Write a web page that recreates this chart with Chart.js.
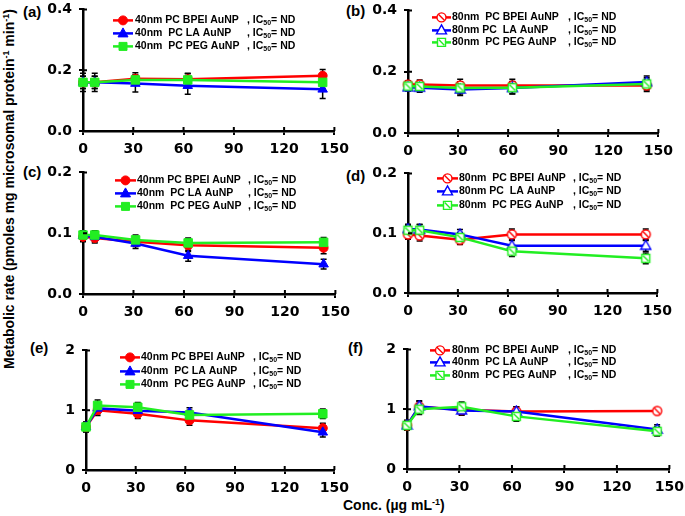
<!DOCTYPE html>
<html>
<head>
<meta charset="utf-8">
<script src="https://cdn.jsdelivr.net/npm/chart.js@4.4.0/dist/chart.umd.min.js"></script>
<style>
  body { margin: 0; background: #fff; }
  #wrap { position: relative; width: 685px; height: 516px; overflow: hidden;
          font-family: "Liberation Sans", Arial, sans-serif; font-weight: bold; color: #000; }
  canvas { position: absolute; }
  .lbl { position: absolute; font-size: 15px; line-height: 15px; }
  #ytitle { position: absolute; left: 9px; top: 189px; font-size: 14px; line-height: 14px; white-space: nowrap;
            transform: translate(-50%, -50%) rotate(-90deg); }
  #xtitle { position: absolute; left: 343px; top: 498px; font-size: 14px; line-height: 14px; white-space: nowrap; }
  sup { font-size: 9px; vertical-align: 5px; line-height: 0; }
</style>
</head>
<body>
<div id="wrap">
  <div class="lbl" style="left:23px;top:4px">(a)</div>
  <div class="lbl" style="left:346px;top:3px">(b)</div>
  <div class="lbl" style="left:23px;top:164px">(c)</div>
  <div class="lbl" style="left:346px;top:168px">(d)</div>
  <div class="lbl" style="left:30px;top:340px">(e)</div>
  <div class="lbl" style="left:348px;top:340px">(f)</div>
  <div id="ytitle">Metabolic rate (pmoles mg microsomal protein<sup>-1</sup> min<sup>-1</sup>)</div>
  <div id="xtitle">Conc. (µg mL<sup>-1</sup>)</div>
</div>
<script>
// concentrations (µg/mL)
const conc = [0, 7, 31.25, 62.5, 143];
const xTicks = [0, 30, 60, 90, 120, 150];

// (a) 40nm
const aBPEI = [0.160, 0.160, 0.172, 0.170, 0.182];
const aLA   = [0.160, 0.160, 0.156, 0.149, 0.137];
const aPEG  = [0.160, 0.160, 0.168, 0.168, 0.160];
const aBPEIErr = [0.02, 0.02, 0.02, 0.02, 0.02];
const aLAErr   = [0.03, 0.03, 0.028, 0.028, 0.03];
const aPEGErr  = [0.02, 0.02, 0.015, 0.02, 0.02];

// (b) 80nm
const bBPEI = [0.158, 0.158, 0.155, 0.155, 0.155];
const bLA   = [0.149, 0.148, 0.142, 0.147, 0.166];
const bPEG  = [0.153, 0.152, 0.147, 0.148, 0.160];
const bBPEIErr = [0.012, 0.015, 0.02, 0.02, 0.02];
const bLAErr   = [0.012, 0.015, 0.02, 0.02, 0.02];
const bPEGErr  = [0.012, 0.015, 0.02, 0.02, 0.02];

// (c) 40nm
const cBPEI = [0.094, 0.092, 0.086, 0.080, 0.076];
const cLA   = [0.096, 0.094, 0.083, 0.063, 0.049];
const cPEG  = [0.097, 0.097, 0.089, 0.084, 0.085];
const cBPEIErr = [0.008, 0.008, 0.008, 0.01, 0.01];
const cLAErr   = [0.008, 0.008, 0.008, 0.009, 0.008];
const cPEGErr  = [0.007, 0.007, 0.008, 0.008, 0.008];

// (d) 80nm
const dBPEI = [0.098, 0.096, 0.089, 0.098, 0.098];
const dLA   = [0.107, 0.106, 0.098, 0.079, 0.079];
const dPEG  = [0.105, 0.105, 0.093, 0.070, 0.058];
const dBPEIErr = [0.008, 0.009, 0.008, 0.009, 0.009];
const dLAErr   = [0.008, 0.009, 0.008, 0.009, 0.009];
const dPEGErr  = [0.008, 0.009, 0.008, 0.009, 0.009];

// (e) 40nm
const eBPEI = [0.72, 1.00, 0.94, 0.83, 0.70];
const eLA   = [0.72, 1.03, 0.99, 0.96, 0.63];
const ePEG  = [0.72, 1.08, 1.05, 0.92, 0.94];
const eBPEIErr = [0.08, 0.09, 0.08, 0.08, 0.08];
const eLAErr   = [0.08, 0.09, 0.08, 0.08, 0.08];
const ePEGErr  = [0.08, 0.09, 0.08, 0.08, 0.08];

// (f) 80nm
const fBPEI = [0.73, 1.04, 0.99, 0.96, 0.97];
const fLA   = [0.73, 1.05, 0.98, 0.96, 0.66];
const fPEG  = [0.73, 1.00, 1.04, 0.88, 0.63];
const fBPEIErr = [0.08, 0.09, 0.08, 0.08, 0.03];
const fLAErr   = [0.08, 0.09, 0.08, 0.08, 0.08];
const fPEGErr  = [0.08, 0.09, 0.08, 0.08, 0.08];

const names40 = ["40nm PC BPEI AuNP", "40nm  PC LA AuNP", "40nm  PC PEG AuNP"];
const names80 = ["80nm  PC BPEI AuNP", "80nm PC  LA AuNP", "80nm  PC PEG AuNP"];
const namesF  = ["80nm  PC BPEI AuNP", "40nm  PC LA AuNP", "80nm  PC PEG AuNP"];

const yTicks02 = [0, 0.2, 0.4];
const yTicks01 = [0, 0.1, 0.2];
const yTicks1  = [0, 1, 2];

const RED = "#ff0000", BLUE = "#0000ff", GREEN = "#22ee22";
const TICK_FONT = { family: "'DejaVu Sans', sans-serif", size: 14, weight: "bold" };
const LEG_FONT = "bold 10.5px 'Liberation Sans', Arial, sans-serif";
const SUB_FONT = "bold 7px 'Liberation Sans', Arial, sans-serif";

function drawMarker(ctx, shape, color, open, x, y) {
  ctx.save();
  ctx.strokeStyle = color;
  ctx.fillStyle = open ? "#fff" : color;
  ctx.lineWidth = open ? 1.4 : 1;
  ctx.beginPath();
  let r = 4.5;
  if (shape === "circle") ctx.arc(x, y, r, 0, Math.PI * 2);
  else if (shape === "triangle") {
    r = 5;
    ctx.moveTo(x, y - r * 1.1); ctx.lineTo(x + r, y + r * 0.7); ctx.lineTo(x - r, y + r * 0.7); ctx.closePath();
  } else { r = 4; ctx.rect(x - r, y - r, 2 * r, 2 * r); }
  ctx.fill(); ctx.stroke();
  if (open && shape !== "triangle") {
    ctx.beginPath();
    ctx.moveTo(x - r * 0.7, y - r * 0.7); ctx.lineTo(x + r * 0.7, y + r * 0.7);
    ctx.stroke();
  }
  ctx.restore();
}

function markerImage(shape, color) {
  const c = document.createElement("canvas");
  c.width = 13; c.height = 13;
  drawMarker(c.getContext("2d"), shape, color, true, 6.5, 6.5);
  return c;
}

const errorBars = {
  id: "errorBars",
  beforeDatasetsDraw(chart) {
    const ctx = chart.ctx, ys = chart.scales.y;
    ctx.save();
    ctx.strokeStyle = "#000"; ctx.lineWidth = 1.5;
    chart.data.datasets.forEach((ds, i) => {
      chart.getDatasetMeta(i).data.forEach((pt, j) => {
        const v = ds.data[j].y, e = ds.errors[j];
        const y1 = ys.getPixelForValue(v + e), y2 = ys.getPixelForValue(v - e);
        ctx.beginPath();
        ctx.moveTo(pt.x, y1); ctx.lineTo(pt.x, y2);
        ctx.moveTo(pt.x - 3, y1); ctx.lineTo(pt.x + 3, y1);
        ctx.moveTo(pt.x - 3, y2); ctx.lineTo(pt.x + 3, y2);
        ctx.stroke();
      });
    });
    ctx.restore();
  }
};

// ticks that cross the axis line
const crossTicks = {
  id: "crossTicks",
  afterDraw(chart) {
    const ctx = chart.ctx, a = chart.chartArea, xs = chart.scales.x, ys = chart.scales.y;
    ctx.save();
    ctx.strokeStyle = "#000"; ctx.lineWidth = 2;
    ctx.beginPath();
    xs.ticks.forEach(t => { const x = xs.getPixelForValue(t.value); ctx.moveTo(x, a.bottom); ctx.lineTo(x, a.bottom - 4); });
    ys.ticks.forEach(t => { const y = ys.getPixelForValue(t.value); ctx.moveTo(a.left, y); ctx.lineTo(a.left + 4, y); });
    ctx.stroke();
    ctx.restore();
  }
};

const panelLegend = {
  id: "panelLegend",
  afterDraw(chart, args, opts) {
    const ctx = chart.ctx, a = chart.chartArea;
    ctx.save();
    chart.data.datasets.forEach((ds, i) => {
      const y = a.top + opts.rows[i];
      ctx.strokeStyle = ds.borderColor; ctx.lineWidth = 2.5;
      ctx.beginPath(); ctx.moveTo(a.left + opts.x0, y); ctx.lineTo(a.left + opts.x1, y); ctx.stroke();
      drawMarker(ctx, ds.shape, ds.borderColor, opts.open, a.left + (opts.x0 + opts.x1) / 2, y);
      ctx.fillStyle = "#000"; ctx.textBaseline = "middle"; ctx.font = LEG_FONT;
      ctx.fillText(ds.label, a.left + opts.tx, y);
      let x = a.left + opts.icx;
      ctx.fillText(", IC", x, y); x += ctx.measureText(", IC").width;
      ctx.font = SUB_FONT; ctx.fillText("50", x, y + 3); x += ctx.measureText("50").width;
      ctx.font = LEG_FONT; ctx.fillText("= ND", x, y);
    });
    ctx.restore();
  }
};

function makePanel(p) {
  const wrap = document.getElementById("wrap");
  const cv = document.createElement("canvas");
  cv.width = p.R - p.L + 68;
  cv.height = p.B - p.T + 46;
  cv.style.left = (p.L - 50) + "px";
  cv.style.top = (p.T - 12) + "px";
  wrap.appendChild(cv);

  const shapes = ["circle", "triangle", "rect"];
  const colors = [RED, BLUE, GREEN];
  const datasets = p.series.map((vals, i) => ({
    label: p.names[i],
    data: conc.map((c, j) => ({ x: c, y: vals[j] })),
    errors: p.errs[i],
    shape: shapes[i],
    borderColor: colors[i],
    backgroundColor: colors[i],
    borderWidth: 2.5,
    pointStyle: p.open ? markerImage(shapes[i], colors[i]) : shapes[i],
    pointRadius: [4.5, 5.5, 6][i],
    pointBorderWidth: 1,
    tension: 0,
    clip: false,
    order: 3 - i
  }));

  new Chart(cv, {
    type: "line",
    data: { datasets },
    options: {
      responsive: false,
      animation: false,
      devicePixelRatio: 1,
      layout: { padding: { top: 12, right: 18, left: 0, bottom: 0 } },
      plugins: { legend: { display: false }, tooltip: { enabled: false }, panelLegend: p.legend },
      scales: {
        x: {
          type: "linear", min: 0, max: 150,
          afterBuildTicks: s => { s.ticks = xTicks.map(v => ({ value: v })); },
          afterFit: s => { s.height = 34; },
          ticks: { font: TICK_FONT, color: "#000", padding: 6, maxRotation: 0, autoSkip: false },
          grid: { drawOnChartArea: false, color: "#000", lineWidth: 2, tickLength: 4 },
          border: { color: "#000", width: 2.5 }
        },
        y: {
          min: 0, max: p.yTicks[p.yTicks.length - 1],
          afterBuildTicks: s => { s.ticks = p.yTicks.map(v => ({ value: v })); },
          afterFit: s => { s.width = 50; },
          ticks: { font: TICK_FONT, color: "#000", padding: 7, callback: v => v.toFixed(p.dec) },
          grid: { drawOnChartArea: false, color: "#000", lineWidth: 2, tickLength: 4 },
          border: { color: "#000", width: 2.5 }
        }
      }
    },
    plugins: [errorBars, crossTicks, panelLegend]
  });
}

makePanel({ L: 83, R: 337, T: 6, B: 131, yTicks: yTicks02, dec: 1, open: false, names: names40,
  series: [aBPEI, aLA, aPEG], errs: [aBPEIErr, aLAErr, aPEGErr],
  legend: { x0: 30, x1: 50, tx: 52, icx: 164, rows: [11, 24, 37], open: false } });
makePanel({ L: 408, R: 661, T: 7, B: 133, yTicks: yTicks02, dec: 1, open: true, names: names80,
  series: [bBPEI, bLA, bPEG], errs: [bBPEIErr, bLAErr, bPEGErr],
  legend: { x0: 24, x1: 43, tx: 44, icx: 160, rows: [7, 20, 32], open: true } });
makePanel({ L: 83, R: 338, T: 169, B: 294, yTicks: yTicks01, dec: 1, open: false, names: names40,
  series: [cBPEI, cLA, cPEG], errs: [cBPEIErr, cLAErr, cPEGErr],
  legend: { x0: 32, x1: 53, tx: 54, icx: 165, rows: [8, 21, 34], open: false } });
makePanel({ L: 408, R: 660, T: 170, B: 293, yTicks: yTicks01, dec: 1, open: true, names: names80,
  series: [dBPEI, dLA, dPEG], errs: [dBPEIErr, dLAErr, dPEGErr],
  legend: { x0: 29, x1: 50, tx: 51, icx: 165, rows: [5, 18, 32], open: true } });
makePanel({ L: 86, R: 337, T: 347, B: 470, yTicks: yTicks1, dec: 0, open: false, names: names40,
  series: [eBPEI, eLA, ePEG], errs: [eBPEIErr, eLAErr, ePEGErr],
  legend: { x0: 34, x1: 54, tx: 55, icx: 167, rows: [7, 21, 34], open: false } });
makePanel({ L: 407, R: 672, T: 346, B: 469, yTicks: yTicks1, dec: 0, open: true, names: namesF,
  series: [fBPEI, fLA, fPEG], errs: [fBPEIErr, fLAErr, fPEGErr],
  legend: { x0: 23, x1: 43, tx: 45, icx: 161, rows: [1, 13, 26], open: true } });
</script>
</body>
</html>
